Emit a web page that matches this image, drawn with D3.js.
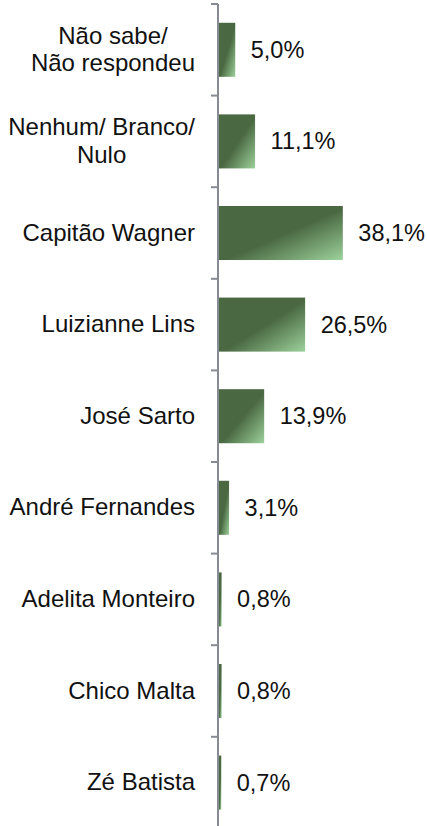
<!DOCTYPE html>
<html>
<head>
<meta charset="utf-8">
<script src="https://cdn.jsdelivr.net/npm/d3@7"></script>
<style>
  html, body { margin: 0; padding: 0; background: #fff; }
  svg { display: block; }
</style>
</head>
<body>
<script>
const categories = [
  ["Não sabe/", "Não respondeu"],
  ["Nenhum/ Branco/", "Nulo"],
  ["Capitão Wagner"],
  ["Luizianne Lins"],
  ["José Sarto"],
  ["André Fernandes"],
  ["Adelita Monteiro"],
  ["Chico Malta"],
  ["Zé Batista"]
];
const values = [5.0, 11.1, 38.1, 26.5, 13.9, 3.1, 0.8, 0.8, 0.7];
const valueLabels = ["5,0%", "11,1%", "38,1%", "26,5%", "13,9%", "3,1%", "0,8%", "0,8%", "0,7%"];

const W = 427, H = 826;
const FONT = "'Liberation Sans', Arial, Helvetica";
const svg = d3.select("body").append("svg").attr("width", W).attr("height", H);

const defs = svg.append("defs");
const grad = defs.append("linearGradient").attr("id", "barGrad")
  .attr("x1", "0").attr("y1", "0").attr("x2", "1").attr("y2", "1");
grad.append("stop").attr("offset", "0").attr("stop-color", "#4a6842");
grad.append("stop").attr("offset", "0.52").attr("stop-color", "#4a6842");
grad.append("stop").attr("offset", "1").attr("stop-color", "#9dd29b");

const idx = categories.map((c, i) => i);
const y = d3.scaleBand().domain(idx).range([4, 828.4]).paddingInner(0.41).paddingOuter(0.205);
const x = d3.scaleLinear().domain([0, 40]).range([219, 349]);

const fsCat = 24;
const fsVal = 23.5;

svg.append("g").selectAll("rect").data(idx).join("rect")
  .attr("x", x(0))
  .attr("y", i => y(i))
  .attr("width", i => x(values[i]) - x(0))
  .attr("height", y.bandwidth())
  .attr("fill", "url(#barGrad)");

const axisX = 218;
const axis = svg.append("g");
axis.append("line").attr("x1", axisX).attr("x2", axisX)
  .attr("y1", y.range()[0]).attr("y2", H + 5)
  .attr("stroke", "#878b94").attr("stroke-width", 2);
const step = y.step();
d3.range(categories.length + 1).forEach(k => {
  const ty = y.range()[0] + k * step;
  axis.append("line").attr("x1", axisX - 7).attr("x2", axisX)
    .attr("y1", ty).attr("y2", ty)
    .attr("stroke", "#878b94").attr("stroke-width", 2);
});

const labelRight = 195;
const lineH = 27.6;
idx.forEach(i => {
  const lines = categories[i];
  const cy = y(i) + y.bandwidth() / 2 + 7.5;
  const g = svg.append("g");
  const texts = lines.map((t, j) => g.append("text")
    .attr("y", cy + (j - (lines.length - 1) / 2) * lineH)
    .attr("font-family", FONT)
    .attr("font-size", fsCat)
    .attr("fill", "#111")
    .text(t));
  const widths = texts.map(t => t.node().getComputedTextLength());
  const maxW = d3.max(widths);
  const cx = labelRight - maxW / 2;
  texts.forEach(t => t.attr("x", cx).attr("text-anchor", "middle"));
});

svg.append("g").selectAll("text").data(idx).join("text")
  .attr("x", i => x(values[i]) + 15.5)
  .attr("y", i => y(i) + y.bandwidth() / 2 + 8)
  .attr("font-family", FONT)
  .attr("font-size", fsVal)
  .attr("fill", "#111")
  .text(i => valueLabels[i]);
</script>
</body>
</html>
